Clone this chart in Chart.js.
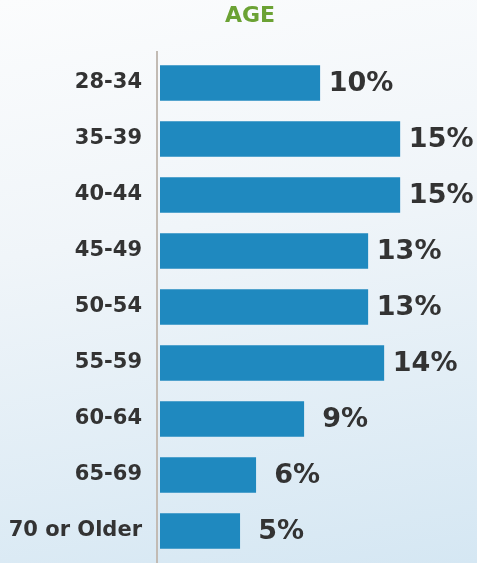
<!DOCTYPE html>
<html>
<head>
<meta charset="utf-8">
<script src="https://cdn.jsdelivr.net/npm/chart.js@4/dist/chart.umd.min.js"></script>
<style>
  html, body { margin: 0; padding: 0; }
  body {
    width: 477px; height: 563px; overflow: hidden;
    background: linear-gradient(170deg, #fbfcfd 0%, #f0f5f9 40%, #d5e7f3 100%);
  }
  #wrap { position: relative; width: 477px; height: 563px; }
</style>
</head>
<body>
<div id="wrap"><canvas id="ageChart"></canvas></div>
<script>
// age groups and share of respondents (%)
const ageGroups = ['28-34', '35-39', '40-44', '45-49', '50-54', '55-59', '60-64', '65-69', '70 or Older'];
const sharePct = [10, 15, 15, 13, 13, 14, 9, 6, 5];
const chartTitle = 'AGE';

const barColor = '#1f89bf';
const textColor = '#333333';

// percent labels just past the end of each bar
const valueLabels = {
  id: 'valueLabels',
  afterDatasetsDraw(chart) {
    const ctx = chart.ctx;
    const meta = chart.getDatasetMeta(0);
    ctx.save();
    ctx.font = 'bold 27px "DejaVu Sans"';
    ctx.fillStyle = textColor;
    ctx.textAlign = 'center';
    ctx.textBaseline = 'middle';
    meta.data.forEach((bar, i) => {
      ctx.fillText(sharePct[i] + '%', bar.x + 41, bar.y + 1);
    });
    ctx.restore();
  }
};

// green heading plus the thin vertical baseline left of the bars
const frame = {
  id: 'frame',
  beforeDatasetsDraw(chart) {
    const ctx = chart.ctx;
    const area = chart.chartArea;
    const x = area.left - 3;
    ctx.save();
    ctx.strokeStyle = '#c2bbb4';
    ctx.lineWidth = 2;
    ctx.beginPath();
    ctx.moveTo(x, area.top - 4);
    ctx.lineTo(x, chart.height);
    ctx.stroke();

    ctx.font = 'bold 22px "DejaVu Sans"';
    ctx.fillStyle = '#6ba234';
    ctx.textAlign = 'center';
    ctx.textBaseline = 'middle';
    ctx.fillText(chartTitle, 250, 16);
    ctx.restore();
  }
};

new Chart(document.getElementById('ageChart'), {
  type: 'bar',
  data: {
    labels: ageGroups,
    datasets: [{
      data: sharePct,
      backgroundColor: barColor,
      borderWidth: 0,
      categoryPercentage: 1,
      barPercentage: 0.635
    }]
  },
  options: {
    indexAxis: 'y',
    responsive: true,
    maintainAspectRatio: false,
    animation: false,
    layout: { padding: { left: 0, right: 0, top: 55, bottom: 4 } },
    plugins: {
      legend: { display: false },
      tooltip: { enabled: false }
    },
    scales: {
      x: {
        display: false,
        min: 0,
        max: 19.8
      },
      y: {
        afterFit(scale) {
          scale.width = 160;
          // labels sit inside the category bands, no extra room needed
          scale.paddingTop = 0;
          scale.paddingBottom = 0;
        },
        grid: { display: false, drawTicks: false },
        border: { display: false },
        ticks: {
          color: textColor,
          padding: 18,
          font: { family: '"DejaVu Sans"', size: 21, weight: 'bold' }
        }
      }
    }
  },
  plugins: [valueLabels, frame]
});
</script>
</body>
</html>
